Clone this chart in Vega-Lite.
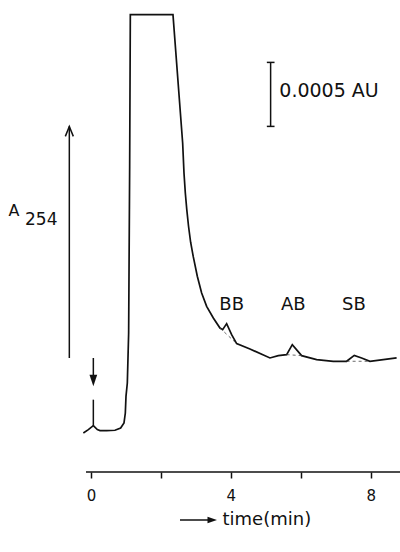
{
  "$schema": "https://vega.github.io/schema/vega-lite/v6.json",
  "width": 400,
  "height": 472,
  "autosize": {"type": "none"},
  "padding": {"left": 0, "top": 0, "right": 0, "bottom": 80},
  "background": "white",
  "config": {"view": {"stroke": null}, "font": "DejaVu Sans"},
  "datasets": {
    "trace": [
      {"t": -0.219, "a": 3.05}, {"t": -0.076, "a": 3.31}, {"t": 0.067, "a": 3.62}, {"t": 0.181, "a": 3.31},
      {"t": 0.257, "a": 3.23}, {"t": 0.448, "a": 3.23}, {"t": 0.686, "a": 3.26}, {"t": 0.848, "a": 3.44},
      {"t": 0.944, "a": 3.83}, {"t": 0.982, "a": 4.61}, {"t": 1.001, "a": 5.91}, {"t": 1.039, "a": 6.95},
      {"t": 1.077, "a": 10.86}, {"t": 1.106, "a": 23.88}, {"t": 1.125, "a": 35.73}, {"t": 2.345, "a": 35.73},
      {"t": 2.622, "a": 25.70}, {"t": 2.660, "a": 23.36}, {"t": 2.698, "a": 21.80}, {"t": 2.740, "a": 20.50},
      {"t": 2.790, "a": 19.20}, {"t": 2.850, "a": 17.95}, {"t": 2.927, "a": 16.80}, {"t": 3.041, "a": 15.29},
      {"t": 3.165, "a": 13.98}, {"t": 3.308, "a": 12.94}, {"t": 3.499, "a": 12.03}, {"t": 3.689, "a": 11.25},
      {"t": 3.766, "a": 11.12}, {"t": 3.880, "a": 11.59}, {"t": 4.023, "a": 10.73}, {"t": 4.166, "a": 10.03},
      {"t": 4.547, "a": 9.61}, {"t": 5.119, "a": 8.91}, {"t": 5.358, "a": 9.09}, {"t": 5.596, "a": 9.17},
      {"t": 5.758, "a": 9.95}, {"t": 6.025, "a": 9.09}, {"t": 6.454, "a": 8.78}, {"t": 6.930, "a": 8.65},
      {"t": 7.312, "a": 8.65}, {"t": 7.531, "a": 9.11}, {"t": 7.741, "a": 8.91}, {"t": 7.979, "a": 8.65},
      {"t": 8.360, "a": 8.78}, {"t": 8.742, "a": 8.91}
    ],
    "segments": [
      {"t": -0.143, "a": 0, "t2": 8.839, "a2": 0},
      {"t": -0.62, "a": 8.906, "t2": -0.62, "a2": 27.0},
      {"t": 0.067, "a": 8.906, "t2": 0.067, "a2": 7.2},
      {"t": 0.067, "a": 5.651, "t2": 0.067, "a2": 3.62},
      {"t": 5.138, "a": 27.0, "t2": 5.138, "a2": 32.0},
      {"t": 5.03, "a": 32.0, "t2": 5.25, "a2": 32.0},
      {"t": 5.03, "a": 27.0, "t2": 5.25, "a2": 27.0},
      {"t": 2.546, "a": -3.75, "t2": 3.5, "a2": -3.75}
    ],
    "dashed": [
      {"t": 3.689, "a": 11.25, "t2": 4.166, "a2": 10.03},
      {"t": 5.596, "a": 9.17, "t2": 6.025, "a2": 9.09},
      {"t": 7.312, "a": 8.65, "t2": 7.979, "a2": 8.65}
    ],
    "up": [{"t": -0.62, "a": 27.0}],
    "down": [{"t": 0.067, "a": 6.693}],
    "right": [{"t": 3.604, "a": -3.75}],
    "peaks": [
      {"t": 4.023, "a": 13.07, "label": "BB"},
      {"t": 5.787, "a": 13.07, "label": "AB"},
      {"t": 7.52, "a": 13.07, "label": "SB"}
    ],
    "scale": [{"t": 5.386, "a": 29.74, "label": "0.0005 AU"}],
    "ylabA": [{"t": -2.36, "a": 20.0, "label": "A"}],
    "ylabSub": [{"t": -1.888, "a": 19.3, "label": "254"}]
  },
  "encoding": {
    "x": {
      "field": "t", "type": "quantitative",
      "scale": {"domain": [-2.603, 8.839], "nice": false, "zero": false},
      "axis": {
        "values": [0, 2, 4, 6, 8],
        "labelExpr": "datum.value % 4 === 0 ? datum.label : ''",
        "grid": false, "domain": false,
        "ticks": true, "tickSize": 6, "tickWidth": 1.5, "tickColor": "#111",
        "labelFont": "DejaVu Sans", "labelFontSize": 15, "labelColor": "#111",
        "labelBaseline": "alphabetic",
        "labelPadding": 22, "labelFlush": false, "labelOverlap": false, "labelBound": false,
        "title": "time(min)", "titleFont": "DejaVu Sans", "titleFontSize": 18,
        "titleFontWeight": "normal", "titleColor": "#111",
        "titleX": 222, "titleY": 52, "titleAlign": "left", "titleBaseline": "alphabetic", "titleAnchor": "start"
      }
    },
    "y": {
      "field": "a", "type": "quantitative",
      "scale": {"domain": [0, 36.875], "nice": false, "zero": false},
      "axis": null
    }
  },
  "layer": [
    {"data": {"name": "trace"}, "mark": {"type": "line", "color": "#111", "strokeWidth": 1.7, "clip": false}},
    {"data": {"name": "segments"}, "mark": {"type": "rule", "color": "#111", "strokeWidth": 1.5},
     "encoding": {"x2": {"field": "t2"}, "y2": {"field": "a2"}}},
    {"data": {"name": "dashed"}, "mark": {"type": "rule", "color": "#444", "strokeWidth": 0.8, "strokeDash": [3, 3]},
     "encoding": {"x2": {"field": "t2"}, "y2": {"field": "a2"}}},
    {"data": {"name": "up"}, "mark": {"type": "point", "shape": "M-1,2.5L0,0L1,2.5", "filled": false, "stroke": "#111", "strokeWidth": 1.5, "size": 64, "opacity": 1}},
    {"data": {"name": "down"}, "mark": {"type": "point", "shape": "M-1,-3L0,0L1,-3Z", "filled": true, "fill": "#111", "size": 60, "opacity": 1}},
    {"data": {"name": "right"}, "mark": {"type": "point", "shape": "M-3,-1L0,0L-3,1Z", "filled": true, "fill": "#111", "size": 40, "opacity": 1}},
    {"data": {"name": "peaks"}, "mark": {"type": "text", "fontSize": 18, "align": "center", "baseline": "middle", "color": "#111"},
     "encoding": {"text": {"field": "label"}}},
    {"data": {"name": "scale"}, "mark": {"type": "text", "fontSize": 19, "align": "left", "baseline": "middle", "color": "#111"},
     "encoding": {"text": {"field": "label"}}},
    {"data": {"name": "ylabA"}, "mark": {"type": "text", "fontSize": 16, "align": "left", "baseline": "alphabetic", "color": "#111"},
     "encoding": {"text": {"field": "label"}}},
    {"data": {"name": "ylabSub"}, "mark": {"type": "text", "fontSize": 17, "align": "left", "baseline": "alphabetic", "color": "#111"},
     "encoding": {"text": {"field": "label"}}}
  ]
}
